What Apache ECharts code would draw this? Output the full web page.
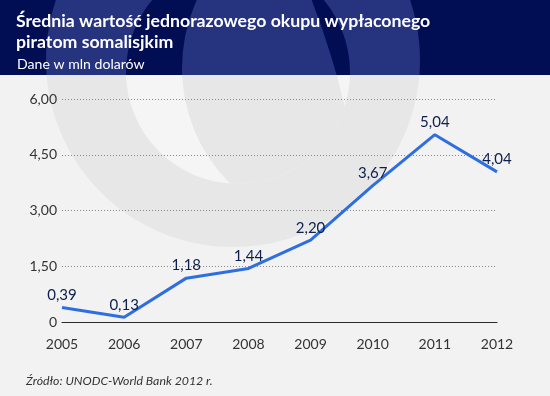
<!DOCTYPE html>
<html><head><meta charset="utf-8">
<script src="https://cdn.jsdelivr.net/npm/echarts@6/dist/echarts.min.js"></script>
<style>
html,body{margin:0;padding:0;background:#f2f2f2;}
#wrap{position:relative;width:550px;height:396px;overflow:hidden;background:#f2f2f2;}
.layer{position:absolute;left:0;width:550px;overflow:hidden;}
#hdr{top:0;height:75px;background:#020e54;}
#bdy{top:75px;height:321px;background:#f2f2f2;}
.c{position:absolute;border-radius:50%;overflow:hidden;}
#chart{position:absolute;left:0;top:0;width:550px;height:396px;}
</style></head>
<body>
<div id="wrap">
  <div class="layer" id="hdr">
    <div class="c" style="left:46px;top:-127px;width:374px;height:374px;background:#263480"></div>
    <div class="c" style="left:126px;top:-40px;width:224px;height:224px;background:#020e54">
      <div class="c" style="left:56px;top:-55px;width:326px;height:326px;">
        <div class="c" style="left:-1458px;top:-430px;width:1643px;height:1643px;background:#263480"></div>
      </div>
    </div>
  </div>
  <div class="layer" id="bdy">
    <div class="c" style="left:46px;top:-202px;width:374px;height:374px;background:#e7e7e7"></div>
    <div class="c" style="left:126px;top:-115px;width:224px;height:224px;background:#f5f5f5">
      <div class="c" style="left:56px;top:-55px;width:326px;height:326px;">
        <div class="c" style="left:-1458px;top:-430px;width:1643px;height:1643px;background:#e7e7e7"></div>
      </div>
    </div>
  </div>
  <div id="chart"></div>
</div>
<script>
var years = ['2005','2006','2007','2008','2009','2010','2011','2012'];
var ransom = [0.39, 0.13, 1.18, 1.44, 2.20, 3.67, 5.04, 4.04];
var yMin = 0, yMax = 6, yStep = 1.5;
var titleLine1 = 'Średnia wartość jednorazowego okupu wypłaconego';
var titleLine2 = 'piratom somalisjkim';
var subtitleText = 'Dane w mln dolarów';
var sourceText = 'Źródło: UNODC-World Bank 2012 r.';

function fmt(v){ return v === 0 ? '0' : v.toFixed(2).replace('.', ','); }

// pick font sizes so text widths match the reference
var mctx = document.createElement('canvas').getContext('2d');
function fitSize(text, style, target){
  mctx.font = style + ' 100px Lato';
  var w = mctx.measureText(text).width;
  return Math.round(100 * target / w * 10) / 10;
}
var titleSize = fitSize(titleLine1, 'bold', 415);
var subSize = fitSize(subtitleText, 'normal', 128);
var srcSize = fitSize(sourceText, 'italic', 186);

var chart = echarts.init(document.getElementById('chart'), null, {renderer:'canvas'});
chart.setOption({
  backgroundColor: 'transparent',
  animation: false,
  title: [
    {text: titleLine1 + '\n' + titleLine2, left: 11, top: 6,
     textStyle: {color:'#ffffff', fontFamily:'Lato', fontWeight:'bold', fontSize:titleSize, lineHeight:21}},
    {text: subtitleText, left: 12, top: 52,
     textStyle: {color:'#ffffff', fontFamily:'Lato', fontWeight:'normal', fontSize:subSize}}
  ],
  graphic: [
    {type:'text', left: 26, top: 375,
     style:{text: sourceText, fill:'#333333', font:'italic ' + srcSize + 'px Lato'}}
  ],
  grid: {left: 62, right: 53, top: 99, bottom: 74, containLabel: false},
  xAxis: {
    type: 'category', data: years, boundaryGap: false,
    axisLine: {show: true, lineStyle: {color:'#2a2a2a', width:1.2}},
    axisTick: {show: false},
    axisLabel: {color:'#333333', fontFamily:'Lato', fontSize:14, margin:15}
  },
  yAxis: {
    type: 'value', min: yMin, max: yMax, interval: yStep,
    axisLine: {show:false}, axisTick: {show:false},
    axisLabel: {color:'#333333', fontFamily:'Lato', fontSize:14, margin:5, formatter: fmt},
    splitLine: {show:true, lineStyle: {color:'#8a8a8a', type:[1,2], width:1}}
  },
  series: [{
    type: 'line', data: ransom,
    symbol: 'circle', symbolSize: 0, showSymbol: true,
    lineStyle: {color:'#2f6ee0', width:3},
    itemStyle: {color:'#2f6ee0'},
    label: {show:true, position:'top', distance:5, color:'#0d1f4a',
            fontFamily:'Lato', fontSize:15, formatter: function(p){ return fmt(p.value); }}
  }]
});
</script>
</body></html>
